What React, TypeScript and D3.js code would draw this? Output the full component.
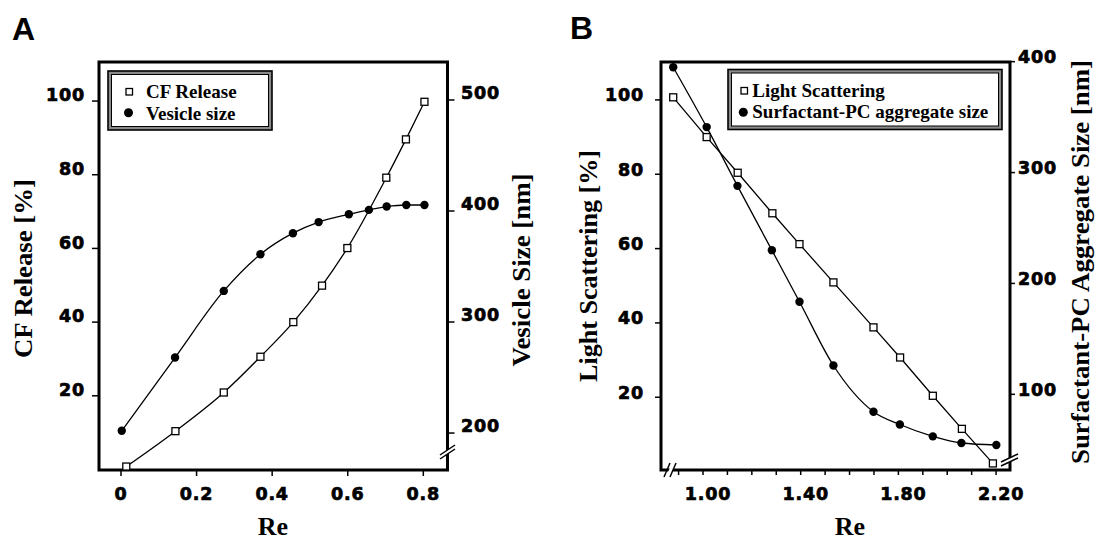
import * as d3 from 'd3'

// Panel A: CF release (%) and vesicle size (nm) vs Re
const reCF = [0.014, 0.144, 0.272, 0.369, 0.456, 0.532, 0.599, 0.702, 0.754, 0.803]
const cfRelease = [0.8, 10.4, 20.9, 30.6, 40.0, 49.9, 60.1, 79.2, 89.6, 99.8]
const reVesicle = [0.002, 0.143, 0.272, 0.369, 0.455, 0.523, 0.603, 0.656, 0.703, 0.755, 0.803]
const vesicleSize = [202, 268, 328, 361, 380, 390, 397, 401, 404, 405.4, 405.4]

// Panel B: light scattering (%) and surfactant-PC aggregate size (nm) vs Re
const reLight = [0.878, 1.015, 1.142, 1.284, 1.395, 1.534, 1.698, 1.807, 1.941, 2.06, 2.187]
const lightScattering = [100.7, 90.0, 80.4, 69.5, 61.2, 50.9, 38.8, 30.7, 20.4, 11.5, 2.2]
const reAggregate = [0.878, 1.015, 1.141, 1.282, 1.395, 1.534, 1.698, 1.806, 1.941, 2.058, 2.201]
const aggregateSize = [395, 341, 288, 230, 183.5, 126, 84.3, 72.8, 62.1, 56.1, 54.3]

// tick values
const ticksALeft = [20, 40, 60, 80, 100]
const ticksARight = [200, 300, 400, 500]
const ticksAX = [0, 0.2, 0.4, 0.6, 0.8]
const ticksBLeft = [20, 40, 60, 80, 100]
const ticksBRight = [100, 200, 300, 400]
const ticksBX = [1.0, 1.4, 1.8, 2.2]
const ticksBXMinor = [0.9, 1.0, 1.1, 1.2, 1.3, 1.4, 1.5, 1.6, 1.7, 1.8, 1.9, 2.0, 2.1, 2.2]

const tickFont = {
  fontFamily: "'DejaVu Sans', sans-serif",
  fontWeight: 700,
  fontSize: 17.5,
  letterSpacing: 0.8,
  stroke: '#000',
  strokeWidth: 0.7
}
const titleFont = {
  fontFamily: "'Liberation Serif', 'Times New Roman', serif",
  fontWeight: 700,
  fontSize: 26
}
const legendFont = {
  fontFamily: "'Liberation Serif', 'Times New Roman', serif",
  fontWeight: 700,
  fontSize: 19
}
const letterFont = {
  fontFamily: "'Liberation Sans', Arial, sans-serif",
  fontWeight: 700,
  fontSize: 32
}

type Pt = [number, number]

function Squares({ pts }: { pts: Pt[] }) {
  return (
    <g>
      {pts.map((p, i) => (
        <rect key={i} x={p[0] - 3.5} y={p[1] - 3.5} width={7} height={7}
          fill="#fff" stroke="#000" strokeWidth={1.3} />
      ))}
    </g>
  )
}

function Dots({ pts }: { pts: Pt[] }) {
  return (
    <g>
      {pts.map((p, i) => (
        <circle key={i} cx={p[0]} cy={p[1]} r={4.2} fill="#000" />
      ))}
    </g>
  )
}

function LegendBox({ x, y, w, h }: { x: number; y: number; w: number; h: number }) {
  return (
    <g>
      <rect x={x} y={y} width={w} height={h} fill="#8a8a8a" stroke="#000" strokeWidth={1.6} />
      <rect x={x + 3.5} y={y + 3.5} width={w - 7} height={h - 7} fill="#fff" stroke="#000" strokeWidth={1} />
    </g>
  )
}

export default function App() {
  // ---- Panel A ----
  const fA = { left: 99, right: 447.5, top: 62, bottom: 470 }
  const xA = d3.scaleLinear().domain([-0.0582, 0.864]).range([fA.left, fA.right])
  const yA = d3.scaleLinear().domain([-0.14, 110.6]).range([fA.bottom, fA.top])
  const yA2 = d3.scaleLinear().domain([166.7, 534.2]).range([fA.bottom, fA.top])

  const cfPts: Pt[] = reCF.map((r, i) => [xA(r), yA(cfRelease[i])])
  const vesPts: Pt[] = reVesicle.map((r, i) => [xA(r), yA2(vesicleSize[i])])

  // ---- Panel B ----
  const fB = { left: 661, right: 1010, top: 62, bottom: 470 }
  const xB = d3.scaleLinear().domain([0.828, 2.257]).range([fB.left, fB.right])
  const yB = d3.scaleLinear().domain([0.43, 110.2]).range([fB.bottom, fB.top])
  const yB2 = d3.scaleLinear().domain([31.75, 399.7]).range([fB.bottom, fB.top])

  const lsPts: Pt[] = reLight.map((r, i) => [xB(r), yB(lightScattering[i])])
  const aggPts: Pt[] = reAggregate.map((r, i) => [xB(r), yB2(aggregateSize[i])])

  const smooth = d3.line<Pt>().x(d => d[0]).y(d => d[1]).curve(d3.curveMonotoneX)
  const straight = d3.line<Pt>().x(d => d[0]).y(d => d[1])

  return (
    <svg width={1096} height={541} viewBox="0 0 1096 541"
      style={{ position: 'absolute', left: 0, top: 0, background: '#fff' }}>
      {/* panel letters */}
      <text x={12} y={40} {...letterFont}>A</text>
      <text x={570} y={39} {...letterFont}>B</text>

      {/* ================= Panel A ================= */}
      <g>
        {ticksALeft.map(v => (
          <g key={'al' + v}>
            <line x1={fA.left - 7} x2={fA.left} y1={yA(v)} y2={yA(v)} stroke="#000" strokeWidth={1.5} />
            <text x={85} y={yA(v) - 6} dy="0.36em" textAnchor="end" {...tickFont}>{v}</text>
          </g>
        ))}
        {ticksARight.map(v => (
          <g key={'ar' + v}>
            <line x1={fA.right} x2={fA.right + 7} y1={yA2(v)} y2={yA2(v)} stroke="#000" strokeWidth={1.5} />
            <text x={461} y={yA2(v) - 7} dy="0.36em" textAnchor="start" {...tickFont}>{v}</text>
          </g>
        ))}
        {ticksAX.map(v => (
          <g key={'ax' + v}>
            <line x1={xA(v)} x2={xA(v)} y1={fA.bottom} y2={fA.bottom + 6} stroke="#000" strokeWidth={1.5} />
            <text x={xA(v)} y={499.5} textAnchor="middle" {...tickFont}>{v === 0 ? '0' : String(v)}</text>
          </g>
        ))}

        <rect x={fA.left} y={fA.top} width={fA.right - fA.left} height={fA.bottom - fA.top}
          fill="none" stroke="#000" strokeWidth={3} />

        {/* axis break on right axis */}
        <polygon points={`440,455 455,445 455,449 440,459`} fill="#fff" />
        <line x1={440} y1={455} x2={455} y2={445} stroke="#000" strokeWidth={1.5} />
        <line x1={440} y1={459} x2={455} y2={449} stroke="#000" strokeWidth={1.5} />

        {/* series */}
        <path d={smooth(cfPts) ?? ''} fill="none" stroke="#000" strokeWidth={1.3} />
        <path d={smooth(vesPts) ?? ''} fill="none" stroke="#000" strokeWidth={1.3} />
        <Squares pts={cfPts} />
        <Dots pts={vesPts} />

        {/* legend */}
        <LegendBox x={108} y={71} w={164} h={59} />
        <rect x={126} y={88.5} width={6.5} height={6.5} fill="#fff" stroke="#000" strokeWidth={1.3} />
        <text x={146} y={98} {...legendFont}>CF Release</text>
        <circle cx={128.5} cy={112.7} r={4.5} fill="#000" />
        <text x={146} y={119.5} {...legendFont}>Vesicle size</text>

        {/* titles */}
        <text transform="translate(31.5,268.5) rotate(-90)" textAnchor="middle"
          textLength={179} lengthAdjust="spacingAndGlyphs" {...titleFont}>CF Release [%]</text>
        <text transform="translate(530,270) rotate(-90)" textAnchor="middle"
          textLength={193} lengthAdjust="spacingAndGlyphs" {...titleFont}>Vesicle Size [nm]</text>
        <text x={273} y={535} textAnchor="middle" {...titleFont}>Re</text>
      </g>

      {/* ================= Panel B ================= */}
      <g>
        {ticksBLeft.map(v => (
          <g key={'bl' + v}>
            <line x1={fB.left - 6} x2={fB.left} y1={yB(v)} y2={yB(v)} stroke="#000" strokeWidth={1.5} />
            <text x={644} y={yB(v) - 5} dy="0.36em" textAnchor="end" {...tickFont}>{v}</text>
          </g>
        ))}
        {ticksBRight.map(v => (
          <g key={'br' + v}>
            <line x1={fB.right} x2={fB.right + 5} y1={yB2(v)} y2={yB2(v)} stroke="#000" strokeWidth={1.5} />
            <text x={1018} y={yB2(v) - 4.5} dy="0.36em" textAnchor="start" {...tickFont}>{v}</text>
          </g>
        ))}
        {ticksBXMinor.map(v => (
          <line key={'bm' + v} x1={xB(v)} x2={xB(v)} y1={fB.bottom} y2={fB.bottom + 5}
            stroke="#000" strokeWidth={1.5} />
        ))}
        {ticksBX.map(v => (
          <text key={'bx' + v} x={xB(v) + 5} y={500} textAnchor="middle" {...tickFont}>{v.toFixed(2)}</text>
        ))}

        <rect x={fB.left} y={fB.top} width={fB.right - fB.left} height={fB.bottom - fB.top}
          fill="none" stroke="#000" strokeWidth={3} />

        {/* axis breaks */}
        <polygon points={`666,477 672,463 676,463 670,477`} fill="#fff" />
        <line x1={664} y1={477} x2={670} y2={463} stroke="#000" strokeWidth={1.5} />
        <line x1={670} y1={477} x2={676} y2={463} stroke="#000" strokeWidth={1.5} />
        <polygon points={`1001,462 1018,454 1018,458 1001,466`} fill="#fff" />
        <line x1={1001} y1={462} x2={1018} y2={454} stroke="#000" strokeWidth={1.5} />
        <line x1={1001} y1={466} x2={1018} y2={458} stroke="#000" strokeWidth={1.5} />

        <path d={straight(lsPts) ?? ''} fill="none" stroke="#000" strokeWidth={1.3} />
        <path d={smooth(aggPts) ?? ''} fill="none" stroke="#000" strokeWidth={1.3} />
        <Squares pts={lsPts} />
        <Dots pts={aggPts} />

        <LegendBox x={728} y={69.5} w={274} h={60} />
        <rect x={741} y={87.5} width={6.5} height={6.5} fill="#fff" stroke="#000" strokeWidth={1.3} />
        <text x={752.3} y={96.7} {...legendFont}>Light Scattering</text>
        <circle cx={743.3} cy={112.3} r={4.5} fill="#000" />
        <text x={752.3} y={118.3} textLength={236} lengthAdjust="spacing" {...legendFont}>Surfactant-PC aggregate size</text>

        <text transform="translate(597,266) rotate(-90)" textAnchor="middle"
          textLength={232} lengthAdjust="spacingAndGlyphs" {...titleFont}>Light Scattering [%]</text>
        <text transform="translate(1089,262) rotate(-90)" textAnchor="middle"
          textLength={404} lengthAdjust="spacingAndGlyphs" {...titleFont}>Surfactant-PC Aggregate Size [nm]</text>
        <text x={850} y={535} textAnchor="middle" {...titleFont}>Re</text>
      </g>
    </svg>
  )
}
